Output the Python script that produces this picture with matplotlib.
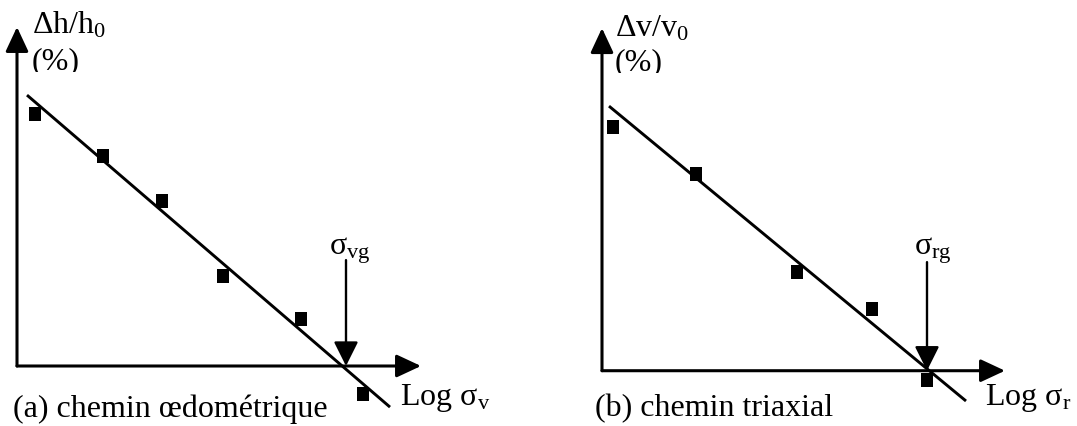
import matplotlib
matplotlib.use('Agg')
import matplotlib.pyplot as plt
from matplotlib.patches import Rectangle

# --- valeurs (unités arbitraires : log sigma / %) ---
# (a) chemin oedometrique
x_a = [0.18, 0.86, 1.45, 2.06, 2.84, 3.46]
y_a = [8.40, 7.01, 5.49, 2.99, 1.56, -0.94]
fit_x_a = [0.10, 3.73]
fit_y_a = [9.03, -1.37]
sigma_g_a = 3.29       # sigma_vg
fleche_haut_a = 3.53   # debut de la fleche verticale

# (b) chemin triaxial
x_b = [0.11, 0.94, 1.95, 2.70, 3.25]
y_b = [8.13, 6.55, 3.28, 2.05, -0.31]
fit_x_b = [0.07, 3.64]
fit_y_b = [8.82, -1.01]
sigma_g_b = 3.25       # sigma_rg
fleche_haut_b = 3.62

# longueur des axes (pointe des fleches)
axe_x_a, axe_y_a = 4.04, 11.30
axe_x_b, axe_y_b = 4.03, 11.42

plt.rcParams['font.family'] = ['Liberation Serif', 'DejaVu Serif']
plt.rcParams['mathtext.fontset'] = 'custom'
plt.rcParams['mathtext.rm'] = 'Liberation Serif'
plt.rcParams['mathtext.it'] = 'Liberation Serif:italic'

FS = 23
RECT = [(-0.40, -0.5), (0.40, -0.5), (0.40, 0.5), (-0.40, 0.5), (-0.40, -0.5)]


def fleche(ax, xy, xytext, lw=2.2, hw=0.7):
    ax.annotate('', xy=xy, xytext=xytext, annotation_clip=False,
                arrowprops=dict(arrowstyle=f'-|>,head_length=1.5,head_width={hw}',
                                mutation_scale=10, lw=lw, color='k',
                                shrinkA=0, shrinkB=0))


def panneau(ax, xs, ys, fx, fy, sg, haut, ax_x, ax_y,
            ylab, sig_lab, log_lab, legende, pos):
    # axes avec fleches
    fleche(ax, (ax_x, 0), (0, 0))
    fleche(ax, (0, ax_y), (0, 0))

    ax.plot(fx, fy, color='k', lw=2.1, solid_capstyle='butt')
    ax.plot(xs, ys, linestyle='none', marker=RECT, ms=10.5,
            color='k', mew=0)

    # fleche sigma_g
    fleche(ax, (sg, 0), (sg, haut), lw=1.7, hw=0.75)

    ax.text(pos['ylab'][0], pos['ylab'][1], ylab, fontsize=FS, va='baseline')
    t = ax.text(pos['pct'][0], pos['pct'][1], '(%)', fontsize=FS,
                va='baseline', clip_on=True)
    t.set_clip_path(Rectangle((-1, pos['clip']), 3, 5, transform=ax.transData))
    ax.text(pos['sig'][0], pos['sig'][1], sig_lab, fontsize=FS, va='baseline')
    ax.text(pos['log'][0], pos['log'][1], log_lab, fontsize=FS, va='baseline')
    ax.text(pos['leg'][0], pos['leg'][1], legende, fontsize=FS, va='baseline')


fig = plt.figure(figsize=(10.77, 4.26), dpi=100)

ax1 = fig.add_axes([0, 0, 540 / 1077, 1])
ax1.set_xlim(-0.17, 5.23)
ax1.set_ylim(-2.0, 12.2)
ax1.set_axis_off()
panneau(ax1, x_a, y_a, fit_x_a, fit_y_a, sigma_g_a, fleche_haut_a,
        axe_x_a, axe_y_a,
        r'$\mathrm{\Delta h/h_0}$', r'$\mathrm{σ_{vg}}$',
        r'Log $\mathrm{σ_v}$', '(a) chemin œdométrique',
        dict(ylab=(0.15, 11.09), pct=(0.15, 9.88), clip=9.80,
             sig=(3.12, 3.70), log=(3.83, -1.30), leg=(-0.04, -1.69)))

ax2 = fig.add_axes([540 / 1077, 0, 537 / 1077, 1])
ax2.set_xlim(-0.62, 4.75)
ax2.set_ylim(-1.843, 12.357)
ax2.set_axis_off()
panneau(ax2, x_b, y_b, fit_x_b, fit_y_b, sigma_g_b, fleche_haut_b,
        axe_x_b, axe_y_b,
        r'$\mathrm{\Delta v/v_0}$', r'$\mathrm{σ_{rg}}$',
        r'Log $\mathrm{σ_r}$', '(b) chemin triaxial',
        dict(ylab=(0.13, 11.13), pct=(0.13, 10.02), clip=9.94,
             sig=(3.12, 3.86), log=(3.83, -1.14), leg=(-0.07, -1.53)))

fig.savefig('out.png', dpi=100)
